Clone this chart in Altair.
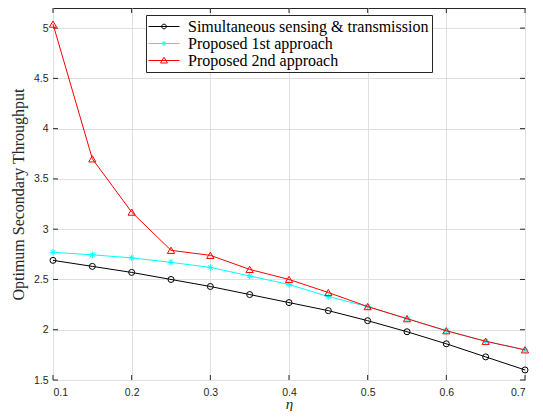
import altair as alt
import pandas as pd

eta = [0.1, 0.15, 0.2, 0.25, 0.3, 0.35, 0.4, 0.45, 0.5, 0.55, 0.6, 0.65, 0.7]
sim = [2.69, 2.63, 2.57, 2.50, 2.43, 2.35, 2.27, 2.19, 2.09, 1.98, 1.86, 1.73, 1.60]
p1 = [2.77, 2.745, 2.715, 2.67, 2.62, 2.535, 2.45, 2.33, 2.23, 2.11, 1.99, 1.885, 1.80]
p2 = [5.04, 3.70, 3.17, 2.79, 2.74, 2.60, 2.50, 2.37, 2.23, 2.11, 1.99, 1.885, 1.80]
series_names = ["Simultaneous sensing & transmission", "Proposed 1st approach", "Proposed 2nd approach"]
colors = ["#000000", "#00ffff", "#ff0000"]
x_ticks = [0.1, 0.2, 0.3, 0.4, 0.5, 0.6, 0.7]
y_ticks = [1.5, 2, 2.5, 3, 3.5, 4, 4.5, 5]

ASTER = "M-1,0H1M0,-1V1M-0.7,-0.7L0.7,0.7M-0.7,0.7L0.7,-0.7"
marker_shapes = ["circle", ASTER, "triangle-up"]
marker_sizes = [36, 42, 52]
legend_paths = [
    "M-3.1,0H3.1M0.47,0A0.47,0.47 0 1,1 -0.47,0A0.47,0.47 0 1,1 0.47,0Z",
    "M-3.1,0H3.1M-0.5,0H0.5M0,-0.5V0.5M-0.36,-0.36L0.36,0.36M-0.36,0.36L0.36,-0.36",
    "M-3.1,0H3.1M0,-0.65L0.7,0.5L-0.7,0.5Z",
]

rows = []
for name, vals in zip(series_names, [sim, p1, p2]):
    for e, v in zip(eta, vals):
        rows.append({"eta": e, "thr": v, "series": name})
df = pd.DataFrame(rows)

W, H = 472, 372
xs = alt.Scale(domain=[0.1, 0.7], nice=False)
ys = alt.Scale(domain=[1.5, 5.2], nice=False, zero=False)
X = alt.X("eta:Q", scale=xs, axis=alt.Axis(values=x_ticks, format="~g", title="η",
                                            labelPadding=7, titlePadding=11, titleBaseline="alphabetic",
                                            titleFontStyle="italic", titleFontSize=15))
Y = alt.Y("thr:Q", scale=ys, axis=alt.Axis(values=y_ticks, format="~g", title="Optimum Secondary Throughput",
                                            labelPadding=5, titlePadding=7, titleFontSize=16))

base = alt.Chart(df)
layers = []

xt = pd.DataFrame({"eta": x_ticks})
yt = pd.DataFrame({"thr": y_ticks})
tick_col = "#262626"
layers.append(alt.Chart(xt).mark_rule(color=tick_col, strokeWidth=1).encode(
    x=alt.X("eta:Q", scale=xs), y=alt.value(H), y2=alt.value(H - 5)))
layers.append(alt.Chart(xt).mark_rule(color=tick_col, strokeWidth=1).encode(
    x=alt.X("eta:Q", scale=xs), y=alt.value(0), y2=alt.value(5)))
layers.append(alt.Chart(yt).mark_rule(color=tick_col, strokeWidth=1).encode(
    y=alt.Y("thr:Q", scale=ys), x=alt.value(0), x2=alt.value(5)))
layers.append(alt.Chart(yt).mark_rule(color=tick_col, strokeWidth=1).encode(
    y=alt.Y("thr:Q", scale=ys), x=alt.value(W - 5), x2=alt.value(W)))

for name, c, shp, sz in zip(series_names, colors, marker_shapes, marker_sizes):
    sub = base.transform_filter(alt.datum.series == name)
    layers.append(sub.mark_line(color=c, strokeWidth=1).encode(x=X, y=Y))
    layers.append(sub.mark_point(shape=shp, size=sz, color=c, strokeWidth=1, filled=False, opacity=1).encode(x=X, y=Y))

leg = alt.Legend(orient="none", legendX=93, legendY=7, title=None,
                 strokeColor="#262626", fillColor="white", padding=3.5,
                 symbolSize=100, symbolStrokeWidth=1, symbolOpacity=1,
                 symbolOffset=6.5, labelOffset=16, rowPadding=1,
                 labelFont="Liberation Serif", labelFontSize=16, labelColor="black",
                 labelLimit=0, cornerRadius=0)
layers.append(base.mark_point(opacity=0, filled=False, size=10).encode(
    x=X, y=Y,
    color=alt.Color("series:N", scale=alt.Scale(domain=series_names, range=colors), legend=leg),
    shape=alt.Shape("series:N", scale=alt.Scale(domain=series_names, range=legend_paths), legend=leg),
))

chart = alt.layer(*layers).properties(
    width=W, height=H,
    background="white",
    autosize=alt.AutoSizeParams(type="none"),
    padding={"left": 45, "top": 0, "right": 10, "bottom": 31},
).configure_view(
    stroke="#262626", strokeWidth=1
).configure_axis(
    grid=True, gridColor="#dfdfdf", gridWidth=1, tickSize=0, domain=False,
    labelFont="Liberation Sans", labelFontSize=10.5, labelColor="#262626",
    titleFont="Liberation Serif", titleFontWeight="normal", titleColor="#262626",
)

chart.save("out.html", embed_options={"renderer": "svg", "actions": False})
